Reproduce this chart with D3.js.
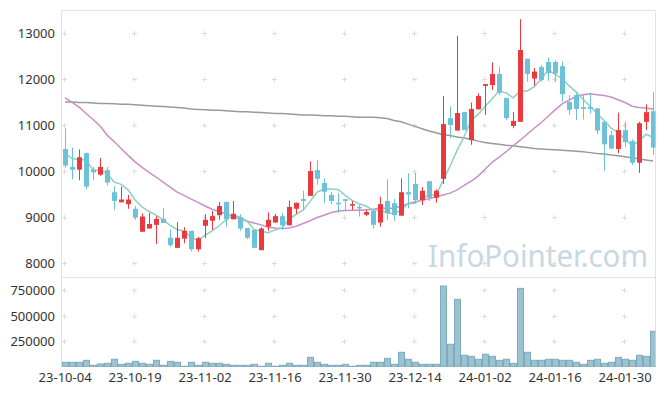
<!DOCTYPE html>
<html>

<head>
  <meta charset="utf-8">
  <title>Candle Chart</title>
  <script src="https://d3js.org/d3.v7.min.js"></script>

  <style>
    body,
    html {
      margin: 0;
      padding: 0;
      background-color: #ffffff;
    }

    body {
      font-family: "Noto Sans", Arial, Helvetica, sans-serif;
    }

    .frame {
      stroke: #e2e2e2;
      stroke-width: 1;
      fill: none;
    }

    .cross {
      stroke: #dddddd;
      stroke-width: 1;
    }

    .label {
      font-size: 13px;
      fill: #333333;
    }

    .vol-bar {
      fill: #9cc1d1;
      stroke: #7eaabd;
      stroke-width: 1;
    }

    .ma {
      fill: none;
      stroke-width: 1.5;
    }

    .watermark {
      font-size: 30px;
      fill: #c7d8e2;
    }
  </style>
</head>

<body>
  <div id="chart"></div>

  <script>
    const dates = ["23-10-04", "23-10-05", "23-10-06", "23-10-10", "23-10-11", "23-10-12", "23-10-13", "23-10-16", "23-10-17", "23-10-18",
      "23-10-19", "23-10-20", "23-10-23", "23-10-24", "23-10-25", "23-10-26", "23-10-27", "23-10-30", "23-10-31", "23-11-01",
      "23-11-02", "23-11-03", "23-11-06", "23-11-07", "23-11-08", "23-11-09", "23-11-10", "23-11-13", "23-11-14", "23-11-15",
      "23-11-16", "23-11-17", "23-11-20", "23-11-21", "23-11-22", "23-11-23", "23-11-24", "23-11-27", "23-11-28", "23-11-29",
      "23-11-30", "23-12-01", "23-12-04", "23-12-05", "23-12-06", "23-12-07", "23-12-08", "23-12-11", "23-12-12", "23-12-13",
      "23-12-14", "23-12-15", "23-12-18", "23-12-19", "23-12-20", "23-12-21", "23-12-22", "23-12-26", "23-12-27", "23-12-28",
      "24-01-02", "24-01-03", "24-01-04", "24-01-05", "24-01-08", "24-01-09", "24-01-10", "24-01-11", "24-01-12", "24-01-15",
      "24-01-16", "24-01-17", "24-01-18", "24-01-19", "24-01-22", "24-01-23", "24-01-24", "24-01-25", "24-01-26", "24-01-29",
      "24-01-30", "24-01-31", "24-02-01", "24-02-02", "24-02-05"
    ]

    const opens = [10480, 10090, 10030, 10390, 10030, 9920, 10020, 9540, 9320, 9280,
      9180, 8680, 8750, 8830, 8960, 8550, 8330, 8530, 8700, 8300,
      8810, 8920, 9040, 9330, 8950, 8990, 8760, 8720, 8280, 8790,
      8880, 9020, 8820, 9180, 9390, 9460, 10020, 9740, 9480, 9310,
      9390, 9250, 9220, 9050, 9140, 8880, 9350, 9300, 9030, 9540,
      9720, 9370, 9780, 9420, 9830, 11150, 10880, 11280, 10670, 11340,
      11850, 11870, 12110, 11590, 10980, 11070, 12440, 12010, 12260, 12370,
      12370, 12280, 11500, 11650, 11390, 11390, 11360, 11070, 10780, 10480,
      10890, 10650, 10180, 11070, 11300
    ]
    const highs = [10930, 10510, 10470, 10400, 10090, 10280, 10090, 9670, 9660, 9480,
      9240, 9080, 9090, 9020, 9190, 8730, 8890, 8780, 8700, 8570,
      9060, 9130, 9330, 9330, 9350, 9060, 8760, 8720, 8780, 9100,
      9070, 9080, 9360, 9310, 9570, 10210, 10240, 9840, 9550, 9520,
      9390, 9350, 9260, 9150, 9140, 9440, 9820, 9390, 9840, 9950,
      9960, 9650, 9780, 9600, 11630, 11410, 12940, 11280, 11490, 11690,
      11890, 12360, 12270, 11590, 11280, 13300, 12440, 12240, 12300, 12470,
      12410, 12380, 11650, 11690, 11670, 11700, 11370, 11070, 10870, 11270,
      11070, 10690, 11070, 11450, 11710
    ]
    const lows = [10070, 9820, 9800, 9600, 9800, 9900, 9680, 9150, 9320, 9180,
      8940, 8680, 8750, 8410, 8870, 8350, 8330, 8430, 8250, 8250,
      8540, 8720, 8940, 8780, 8950, 8700, 8520, 8330, 8280, 8700,
      8880, 8720, 8820, 9070, 9150, 9460, 9700, 9300, 9280, 9090,
      9140, 9150, 9010, 9020, 8750, 8790, 8940, 8920, 9030, 9190,
      9300, 9260, 9350, 9310, 9720, 10710, 10880, 10890, 10570, 11340,
      11220, 11760, 11650, 11110, 10930, 11070, 11940, 11850, 11940, 11960,
      11940, 11510, 11220, 11110, 11120, 11250, 10800, 10010, 10470, 10390,
      10530, 10130, 9960, 10890, 10350
    ]
    const closes = [10120, 10030, 10300, 9660, 9970, 10090, 9750, 9350, 9380, 9380,
      8990, 9010, 8850, 8960, 8870, 8390, 8550, 8700, 8300, 8540,
      8940, 9020, 9240, 8950, 9070, 8750, 8550, 8330, 8750, 8940,
      9020, 8820, 9220, 9310, 9350, 10000, 9830, 9550, 9350, 9280,
      9350, 9280, 9200, 9110, 8830, 9280, 9080, 9040, 9540, 9490,
      9370, 9570, 9420, 9570, 11020, 11000, 11260, 10890, 11350, 11630,
      11890, 12110, 11700, 11150, 11090, 12630, 12110, 12160, 11980, 12130,
      12120, 11670, 11330, 11350, 11350, 11350, 10880, 10580, 10490, 10890,
      10630, 10180, 11040, 11280, 10510
    ]
    const volumes = [46000, 46000, 46000, 65000, 16500, 29000, 36000, 75000, 26000, 36000,
      55000, 36000, 26000, 65000, 16500, 55000, 46000, 7000, 46000, 16500,
      46000, 36000, 36000, 26000, 16500, 16500, 16500, 26000, 7000, 36000,
      7000, 16500, 36000, 16500, 16500, 94000, 46000, 26000, 16500, 16500,
      26000, 7000, 16500, 16500, 46000, 46000, 84000, 26000, 143000, 75000,
      46000, 26000, 26000, 26000, 788000, 221000, 658000, 114000, 104000, 75000,
      124000, 104000, 65000, 75000, 36000, 765000, 143000, 65000, 65000, 75000,
      75000, 65000, 65000, 46000, 26000, 65000, 75000, 36000, 46000, 94000,
      75000, 65000, 114000, 104000, 347000
    ]

    // moving averages
    const ma5 = [10380, 10270, 10250, 10240, 10020, 10010, 9950, 9760, 9710, 9590,
      9370, 9220, 9120, 9040, 8940, 8820, 8730, 8690, 8560, 8490,
      8600, 8700, 8810, 8940, 9040, 9000, 8910, 8730, 8690, 8660,
      8720, 8770, 8950, 9060, 9150, 9340, 9540, 9610, 9610, 9600,
      9470, 9360, 9290, 9240, 9150, 9140, 9100, 9070, 9150, 9290,
      9300, 9400, 9480, 9480, 9790, 10110, 10450, 10750, 11100, 11230,
      11400, 11570, 11740, 11700, 11590, 11740, 11740, 11830, 11990, 12200,
      12100, 12010, 11850, 11720, 11560, 11410, 11250, 11100, 10930, 10840,
      10690, 10550, 10650, 10800, 10730
    ]
    const ma20 = [11590, 11490, 11390, 11250, 11120, 10980, 10780, 10640, 10490, 10340,
      10200, 10080, 9970, 9870, 9760, 9650, 9540, 9470, 9390, 9320,
      9240, 9170, 9120, 9070, 9010, 8960, 8910, 8870, 8830, 8780,
      8760, 8750, 8760, 8800, 8860, 8920, 8990, 9040, 9100, 9130,
      9140, 9150, 9150, 9160, 9170, 9190, 9190, 9190, 9240, 9290,
      9330, 9360, 9400, 9440, 9480, 9520, 9590, 9690, 9780, 9890,
      10040, 10190, 10300, 10420, 10550, 10670, 10800, 10930, 11050, 11190,
      11330, 11460, 11540, 11620, 11660, 11680, 11660, 11640, 11610, 11550,
      11490, 11410, 11380, 11370, 11350
    ]
    const ma120 = [11500, 11500, 11490, 11490, 11480, 11470, 11470, 11460, 11450, 11450,
      11440, 11430, 11420, 11410, 11400, 11390, 11380, 11370, 11350, 11340,
      11330, 11320, 11320, 11310, 11300, 11290, 11290, 11280, 11270, 11260,
      11250, 11250, 11240, 11230, 11220, 11220, 11210, 11200, 11200, 11190,
      11190, 11180, 11170, 11170, 11170, 11160, 11140, 11100, 11070, 11020,
      10970, 10920, 10870, 10830, 10790, 10770, 10740, 10720, 10690, 10650,
      10620, 10600, 10580, 10560, 10550, 10530, 10510, 10490, 10480, 10470,
      10460, 10450, 10440, 10430, 10420, 10400, 10380, 10370, 10350, 10330,
      10310, 10290, 10260, 10240, 10220
    ]

    const priceTicks = [8000, 9000, 10000, 11000, 12000, 13000]
    const volumeTicks = [250000, 500000, 750000]
    const dateTicks = ["23-10-04", "23-10-19", "23-11-02", "23-11-16", "23-11-30", "23-12-14", "24-01-02", "24-01-16", "24-01-30"]

    drawChart()

    function drawChart() {
      const W = 665,
        H = 396
      const left = 61.6,
        right = 655.5,
        priceTop = 10.7,
        priceBottom = 277.3,
        volBottom = 367

      const svg = d3.select('#chart').append('svg')
        .attr('width', W)
        .attr('height', H)
        .attr('id', 'svg-candle')

      const xScale = d3.scaleBand()
        .domain(dates)
        .range([left, left + 7 * dates.length])
        .padding(0)
      const bw = xScale.bandwidth()
      const cx = (d) => xScale(d) + bw / 2

      const yPrice = d3.scaleLinear()
        .domain([7690, 13485])
        .range([priceBottom, priceTop])

      const yVol = d3.scaleLinear()
        .domain([0, 872600])
        .range([volBottom, priceBottom])

      svg.append('clipPath').attr('id', 'clip-price')
        .append('rect')
        .attr('x', left).attr('y', priceTop)
        .attr('width', right - left).attr('height', priceBottom - priceTop)
      svg.append('clipPath').attr('id', 'clip-vol')
        .append('rect')
        .attr('x', left).attr('y', priceBottom)
        .attr('width', right - left).attr('height', volBottom - priceBottom)

      //Grid crosses
      const cross = svg.append('g')
      const crossPts = []
      dateTicks.forEach((d) => {
        priceTicks.forEach((p) => crossPts.push([cx(d), yPrice(p)]))
        volumeTicks.forEach((v) => crossPts.push([cx(d), yVol(v)]))
      })
      crossPts.forEach((p) => {
        const x = Math.round(p[0]) - 0.5,
          y = Math.round(p[1]) + 0.5
        cross.append('line').attr('class', 'cross')
          .attr('x1', x - 2.5).attr('x2', x + 2.5).attr('y1', y).attr('y2', y)
        cross.append('line').attr('class', 'cross')
          .attr('x1', x).attr('x2', x).attr('y1', y - 2.5).attr('y2', y + 2.5)
      })

      //Watermark
      svg.append('text')
        .attr('class', 'watermark')
        .attr('x', 428)
        .attr('y', 267)
        .attr('textLength', 220)
        .attr('lengthAdjust', 'spacingAndGlyphs')
        .text('InfoPointer.com')

      //Frame
      svg.append('path')
        .attr('class', 'frame')
        .attr('d', `M${left - 0.1},${volBottom + 0.5} V${priceTop - 0.2} H${right} V${volBottom + 0.5}`)
      svg.append('line')
        .attr('class', 'frame')
        .attr('x1', left).attr('x2', right)
        .attr('y1', priceBottom + 0.2).attr('y2', priceBottom + 0.2)

      //Moving average lines
      const priceArea = svg.append('g').attr('clip-path', 'url(#clip-price)')
      const maLine = d3.line()
        .x((d, i) => cx(dates[i]))
        .y((d) => yPrice(d))
      const maSeries = [
        { values: ma120, color: '#9a9a9a' },
        { values: ma20, color: '#c98fc7' },
        { values: ma5, color: '#8fd0bf' }
      ]
      maSeries.forEach((s) => {
        priceArea.append('path')
          .datum(s.values)
          .attr('class', 'ma')
          .attr('stroke', s.color)
          .attr('d', maLine)
      })

      //Candles
      const candles = dates.map((d, i) => ({
        date: d,
        open: opens[i],
        high: highs[i],
        low: lows[i],
        close: closes[i]
      }))
      const color = (d) => d.close >= d.open ? '#ea3a3f' : '#6cc3d8'

      const candle = priceArea.selectAll('g.candle')
        .data(candles)
        .enter()
        .append('g')
        .attr('class', 'candle')

      candle.append('line')
        .attr('x1', (d) => Math.round(xScale(d.date)) + 3.5)
        .attr('x2', (d) => Math.round(xScale(d.date)) + 3.5)
        .attr('y1', (d) => yPrice(d.high))
        .attr('y2', (d) => yPrice(d.low))
        .attr('stroke', color)
        .attr('stroke-width', 1)

      candle.append('rect')
        .attr('x', (d) => Math.round(xScale(d.date)) + 1)
        .attr('width', 5)
        .attr('y', (d) => yPrice(Math.max(d.open, d.close)))
        .attr('height', (d) => Math.max(1.5, Math.abs(yPrice(d.open) - yPrice(d.close))))
        .attr('fill', color)

      //Volume bars
      svg.append('g')
        .attr('clip-path', 'url(#clip-vol)')
        .selectAll('rect')
        .data(volumes)
        .enter()
        .append('rect')
        .attr('class', 'vol-bar')
        .attr('x', (d, i) => Math.round(xScale(dates[i])) + 0.5)
        .attr('width', 6)
        .attr('y', (d) => yVol(d))
        .attr('height', (d) => volBottom - yVol(d))

      //Y labels
      svg.selectAll('text.plabel')
        .data(priceTicks)
        .enter()
        .append('text')
        .attr('class', 'label plabel')
        .attr('x', 55)
        .attr('y', (d) => yPrice(d) + 5)
        .attr('text-anchor', 'end')
        .text((d) => d)

      svg.selectAll('text.vlabel')
        .data(volumeTicks)
        .enter()
        .append('text')
        .attr('class', 'label vlabel')
        .attr('x', 55)
        .attr('y', (d) => yVol(d) + 5)
        .attr('text-anchor', 'end')
        .text((d) => d)

      //X labels
      svg.selectAll('text.xlabel')
        .data(dateTicks)
        .enter()
        .append('text')
        .attr('class', 'label xlabel')
        .attr('x', (d) => cx(d))
        .attr('y', 382)
        .attr('text-anchor', 'middle')
        .text((d) => d)
    }
  </script>

</body>

</html>
